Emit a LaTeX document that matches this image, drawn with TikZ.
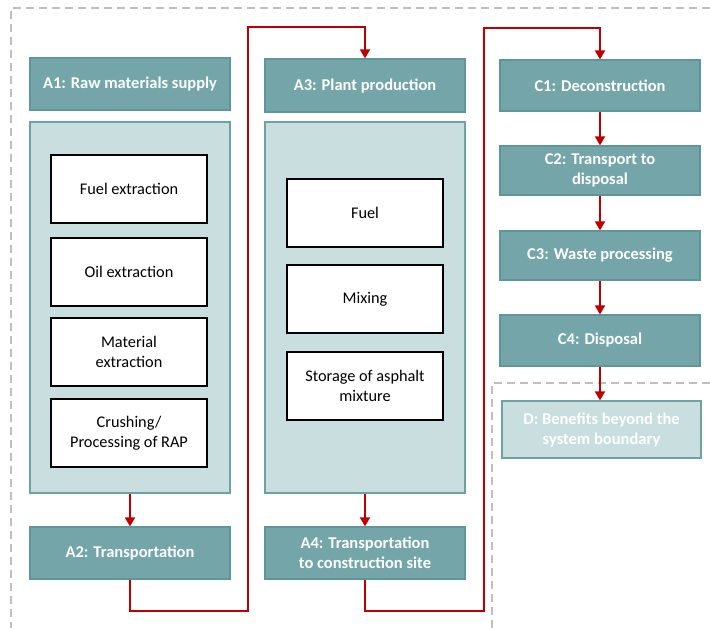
\documentclass[tikz,border=0pt]{standalone}
\usepackage{fontspec}
\setmainfont{Carlito}
\usetikzlibrary{arrows.meta}
\definecolor{hdr}{RGB}{116,166,169}
\definecolor{hdrb}{RGB}{95,150,153}
\definecolor{lite}{RGB}{200,222,223}
\definecolor{liteb}{RGB}{109,161,164}
\definecolor{flowred}{RGB}{192,0,0}
\definecolor{dashgray}{RGB}{191,191,191}
\tikzset{
  hdrbox/.style={draw=hdrb, line width=1.2pt, fill=hdr, text=white, font=\fontsize{16.5}{20}\selectfont\bfseries, align=center, minimum width=200pt, minimum height=52pt, inner sep=2pt},
  contbox/.style={draw=liteb, line width=1.2pt, fill=lite, minimum width=200pt, minimum height=371pt},
  stepbox/.style={draw=black, line width=1.1pt, fill=white, font=\fontsize{16.3}{20}\selectfont, align=center, minimum width=156pt, minimum height=68pt, inner sep=2pt},
  dbox/.style={draw=liteb, line width=1.2pt, fill=lite, text=white, font=\fontsize{16.5}{20}\selectfont\bfseries, align=center, minimum width=199pt, minimum height=57pt, inner sep=2pt},
  flow/.style={draw=flowred, line width=1.8pt, -{Triangle[width=10pt,length=9pt]}},
  bound/.style={draw=dashgray, line width=1.3pt, dash pattern=on 8pt off 5pt},
}
\begin{document}
\begin{tikzpicture}[x=1pt, y=-1pt]
\useasboundingbox (0,0) rectangle (710,628);
% boundaries
\draw[bound] (710,8) -- (11,8) -- (11,628);
\draw[bound] (710,383) -- (492,383) -- (492,628);
% column A1
\node[hdrbox] (A1) at (130,84) {A1: Raw materials supply};
\node[contbox] (A1c) at (130,307.5) {};
\node[stepbox] (s1) at (129,189) {Fuel extraction};
\node[stepbox] (s2) at (129,272) {Oil extraction};
\node[stepbox] (s3) at (129,352) {Material\\extraction};
\node[stepbox] (s4) at (129,433) {Crushing/\\Processing of RAP};
\node[hdrbox] (A2) at (130,553) {A2: Transportation};
% column A3
\node[hdrbox, minimum height=53pt] (A3) at (365,85.5) {A3: Plant production};
\node[contbox] (A3c) at (365,307.5) {};
\node[stepbox] (p1) at (365,213) {Fuel};
\node[stepbox] (p2) at (365,299) {Mixing};
\node[stepbox] (p3) at (365,386) {Storage of asphalt\\mixture};
\node[hdrbox] (A4) at (365,553) {A4: Transportation\\to construction site};
% column C
\node[hdrbox, minimum height=51pt] (C1) at (600,85.5) {C1: Deconstruction};
\node[hdrbox, minimum height=49pt] (C2) at (600,170.5) {C2: Transport to\\disposal};
\node[hdrbox, minimum height=49pt] (C3) at (600,255.5) {C3: Waste processing};
\node[hdrbox, minimum height=51pt] (C4) at (600,340.5) {C4: Disposal};
\node[dbox] (D) at (601.5,429.5) {D: Benefits beyond the\\system boundary};
% connectors
\coordinate (b1) at (248,611);
\coordinate (t1) at (248,27);
\coordinate (b2) at (484,611);
\coordinate (t2) at (484,28);
\draw[flow] (A1c.south) -- (A2.north);
\draw[flow] (A2.south) |- (b1) -- (t1) -| (A3.north);
\draw[flow] (A3c.south) -- (A4.north);
\draw[flow] (A4.south) |- (b2) -- (t2) -| (C1.north);
\draw[flow] (C1.south) -- (C2.north);
\draw[flow] (C2.south) -- (C3.north);
\draw[flow] (C3.south) -- (C4.north);
\draw[flow] (C4.south) -- (C4.south |- D.north);
\end{tikzpicture}
\end{document}
